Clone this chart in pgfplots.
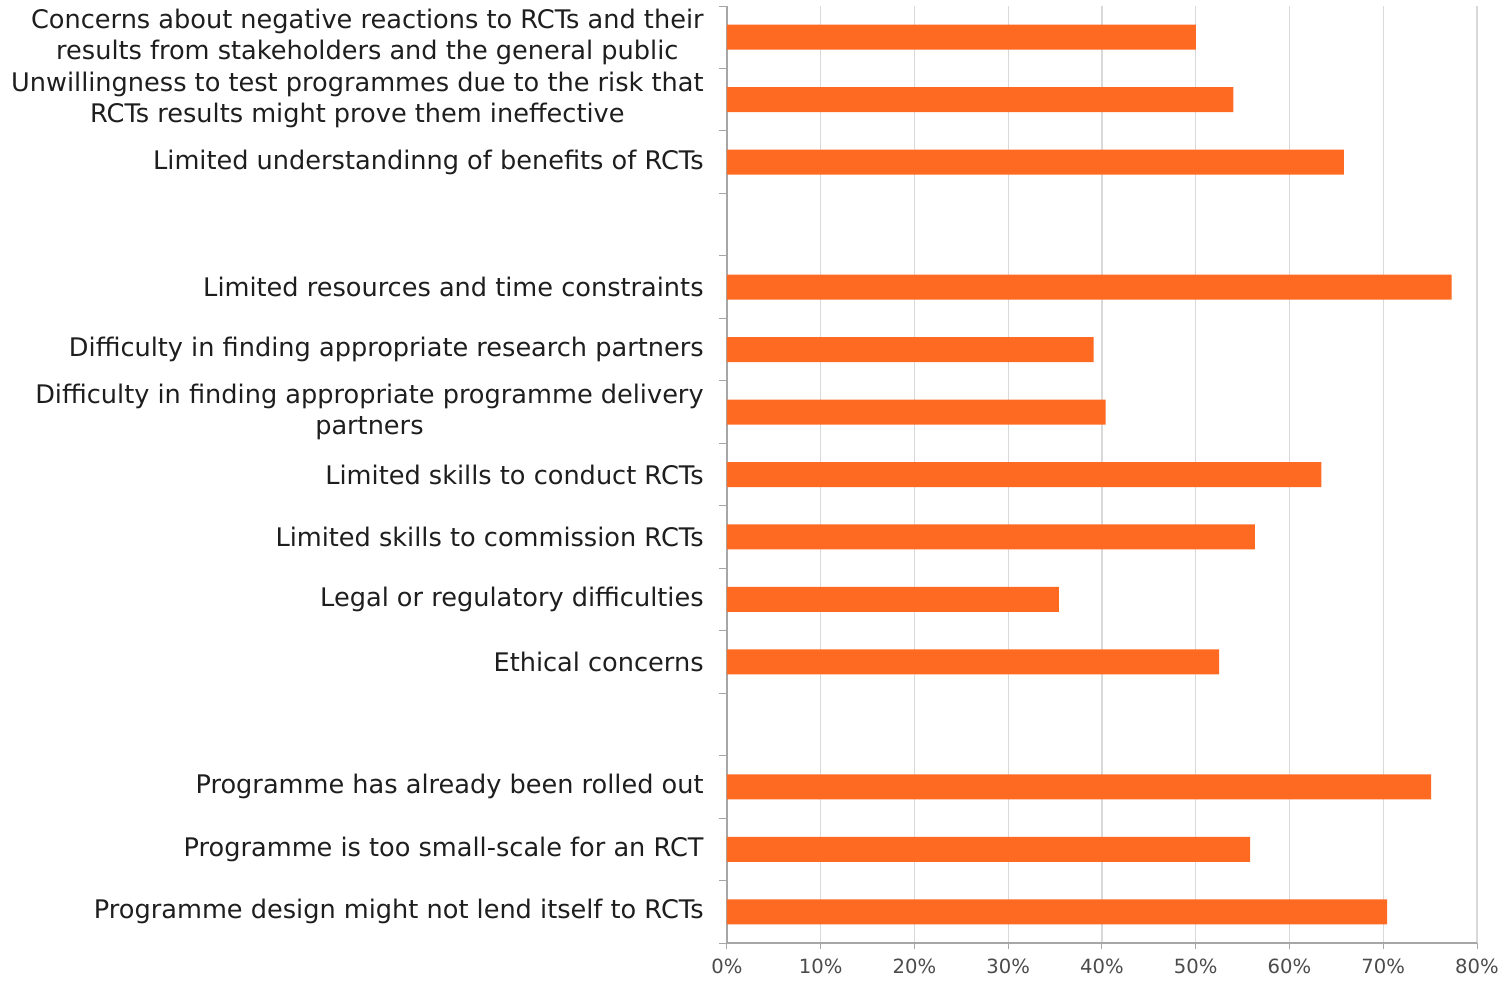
\documentclass[border=0pt]{standalone}
\usepackage{pgfplots}
\pgfplotsset{compat=1.18}
\usepackage{fontspec}
\setmainfont{DejaVu Sans}
\definecolor{barorange}{HTML}{FF6A22}
\definecolor{gridgray}{HTML}{D9D9D9}
\definecolor{axisgray}{HTML}{A6A6A6}
\definecolor{labelgray}{HTML}{1E1E1E}
\begin{document}
\begin{tikzpicture}
\begin{axis}[
  scale only axis,
  width=375pt, height=468.5pt,
  xbar,
  bar width=12.5pt,
  xmin=0, xmax=80,
  ymin=-0.5, ymax=14.5,
  y dir=reverse,
  axis lines*=left,
  axis line style={axisgray, line width=0.6pt},
  xtick={0,10,...,80},
  xticklabels={0\%,10\%,20\%,30\%,40\%,50\%,60\%,70\%,80\%},
  xticklabel style={font=\fontsize{9.8}{11}\selectfont, text=labelgray!80, yshift=-1.5pt},
  xmajorgrids,
  grid style={gridgray, line width=0.6pt},
  tick align=outside,
  major tick length=3pt,
  tick style={axisgray, line width=0.5pt},
  ytick={0,1,2,4,5,6,7,8,9,10,12,13,14},
  major y tick style={draw=none},
  minor ytick={-0.5,0.5,...,14.5},
  minor y tick style={axisgray, line width=0.5pt},
  minor tick length=4pt,
  yticklabels={
    {Concerns about negative reactions to RCTs and their\\results from stakeholders and the general public},
    {Unwillingness to test programmes due to the risk that\\RCTs results might prove them ineffective},
    {Limited understandinng of benefits of RCTs},
    {Limited resources and time constraints},
    {Difficulty in finding appropriate research partners},
    {Difficulty in finding  appropriate programme delivery\\partners},
    {Limited skills to conduct RCTs},
    {Limited skills to commission RCTs},
    {Legal or regulatory difficulties},
    {Ethical concerns},
    {Programme has already been rolled out},
    {Programme is too small-scale for an RCT},
    {Programme design might not lend itself to RCTs}},
  yticklabel style={align=center, font=\fontsize{12.8}{15.5}\selectfont, text=labelgray, inner sep=0pt, xshift=-8.5pt},
]
\addplot[fill=barorange, draw=none] coordinates {
  (50.0,0) (54.0,1) (65.8,2)
  (77.3,4) (39.1,5) (40.4,6) (63.4,7) (56.3,8) (35.4,9) (52.5,10)
  (75.1,12) (55.8,13) (70.4,14)
};
\end{axis}
\path (-363.5pt,-17pt) rectangle (390.5pt,471.5pt);
\end{tikzpicture}
\end{document}
